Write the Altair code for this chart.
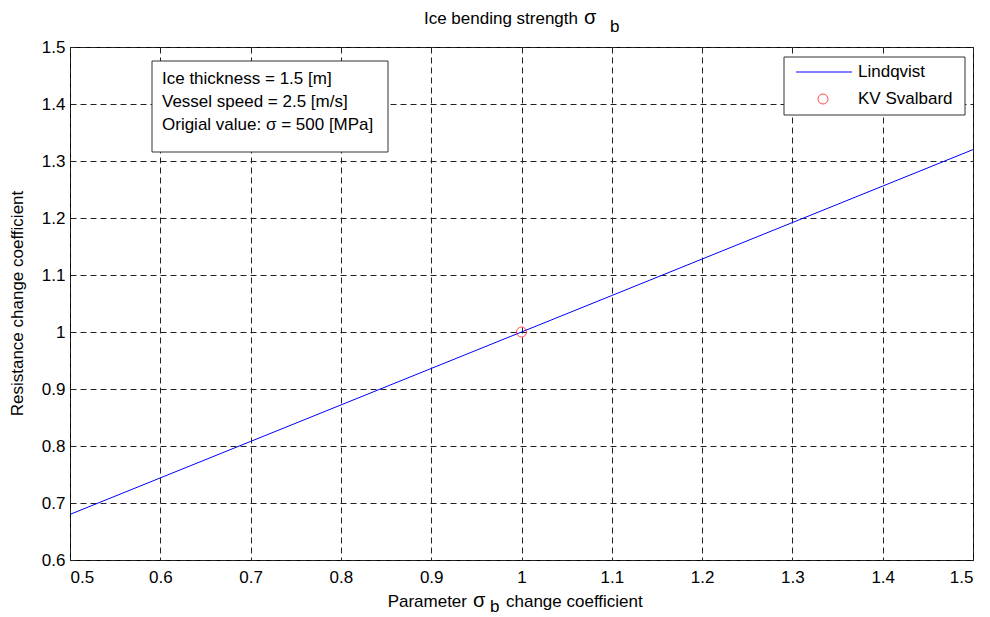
import altair as alt
import pandas as pd

# Parameter change coefficient and the resulting resistance change (Lindqvist)
coef = [0.5, 0.6, 0.7, 0.8, 0.9, 1.0, 1.1, 1.2, 1.3, 1.4, 1.5]
resistance = [0.68, 0.744, 0.808, 0.872, 0.936, 1.0, 1.064, 1.128, 1.192, 1.256, 1.32]

# Reference vessel point
ship_x = [1.0]
ship_y = [1.0]

x_ticks = [0.5, 0.6, 0.7, 0.8, 0.9, 1.0, 1.1, 1.2, 1.3, 1.4, 1.5]
y_ticks = [0.6, 0.7, 0.8, 0.9, 1.0, 1.1, 1.2, 1.3, 1.4, 1.5]

info_lines = [
    "Ice thickness = 1.5 [m]",
    "Vessel speed = 2.5 [m/s]",
    "Origial value: \u03c3 = 500 [MPa]",
]
series_names = ["Lindqvist", "KV Svalbard"]

FONT = "Liberation Sans"
FS = 17
W, H = 903, 513

line_df = pd.DataFrame({"coef": coef, "resistance": resistance})
ship_df = pd.DataFrame({"coef": ship_x, "resistance": ship_y})

xscale = alt.Scale(domain=[0.5, 1.5], nice=False, zero=False)
yscale = alt.Scale(domain=[0.6, 1.5], nice=False, zero=False)

x_axis = alt.Axis(values=x_ticks, format="~g", title=None, grid=True, domain=False,
                  ticks=False, labelPadding=9, labelFont=FONT, labelFontSize=FS,
                  labelColor="#000", gridColor="#222", gridDash=[6, 4], gridWidth=1)
y_axis = alt.Axis(values=y_ticks, format="~g", title=None, grid=True, domain=False,
                  ticks=False, labelPadding=5, labelFont=FONT, labelFontSize=FS,
                  labelColor="#000", gridColor="#222", gridDash=[6, 4], gridWidth=1)

lind = alt.Chart(line_df).mark_line(color="#0000ff", strokeWidth=1).encode(
    x=alt.X("coef:Q", scale=xscale, axis=x_axis),
    y=alt.Y("resistance:Q", scale=yscale, axis=y_axis),
)

ship = alt.Chart(ship_df).mark_point(shape="circle", filled=False, color="#ff0000",
                                     size=100, strokeWidth=1).encode(
    x=alt.X("coef:Q", scale=xscale),
    y=alt.Y("resistance:Q", scale=yscale),
)

one = alt.Data(values=[{}])


def label(text, x, y, align="left", baseline="middle", size=FS, angle=None):
    kw = dict(text=text, align=align, baseline=baseline, font=FONT, fontSize=size,
              color="#000", clip=False)
    if angle is not None:
        kw["angle"] = angle
    return alt.Chart(one).mark_text(**kw).encode(x=alt.value(x), y=alt.value(y))


def box(x1, x2, y1, y2):
    return alt.Chart(one).mark_rect(fill="white", stroke="#333", strokeWidth=1).encode(
        x=alt.value(x1), x2=alt.value(x2), y=alt.value(y1), y2=alt.value(y2))


# Text box with the case parameters
info = [box(82, 318, 14, 105)] + [
    label(t, 92, 32 + i * 23) for i, t in enumerate(info_lines)
]

# Legend
legend = [
    box(714, 895, 10, 68),
    alt.Chart(one).mark_rule(color="#0000ff", strokeWidth=1).encode(
        x=alt.value(726), x2=alt.value(782), y=alt.value(25)),
    alt.Chart(one).mark_point(shape="circle", filled=False, color="#ff0000",
                              size=100, strokeWidth=1).encode(
        x=alt.value(753), y=alt.value(52)),
    label(series_names[0], 788, 25),
    label(series_names[1], 788, 52),
]

# Titles with subscripted sigma_b
titles = [
    label("Ice bending strength", 508, -23, align="right", baseline="alphabetic"),
    label("\u03c3", 514, -23, baseline="alphabetic", size=20),
    label("b", 540, -15, baseline="alphabetic"),
    label("Parameter", 397, 560, align="right", baseline="alphabetic"),
    label("\u03c3", 403, 560, baseline="alphabetic", size=20),
    label("b", 420, 565, baseline="alphabetic"),
    label("change coefficient", 436, 560, baseline="alphabetic"),
    label("Resistance change coefficient", -52, H / 2, align="center", angle=270),
]

chart = alt.layer(lind, ship, *info, *legend, *titles).properties(
    width=W,
    height=H,
    padding={"left": 70, "top": 47, "right": 17, "bottom": 57},
    autosize=alt.AutoSizeParams(type="none"),
    background="white",
).configure_view(stroke="#000", strokeWidth=1)

chart.save("out.html", embed_options={"renderer": "svg", "actions": False})
